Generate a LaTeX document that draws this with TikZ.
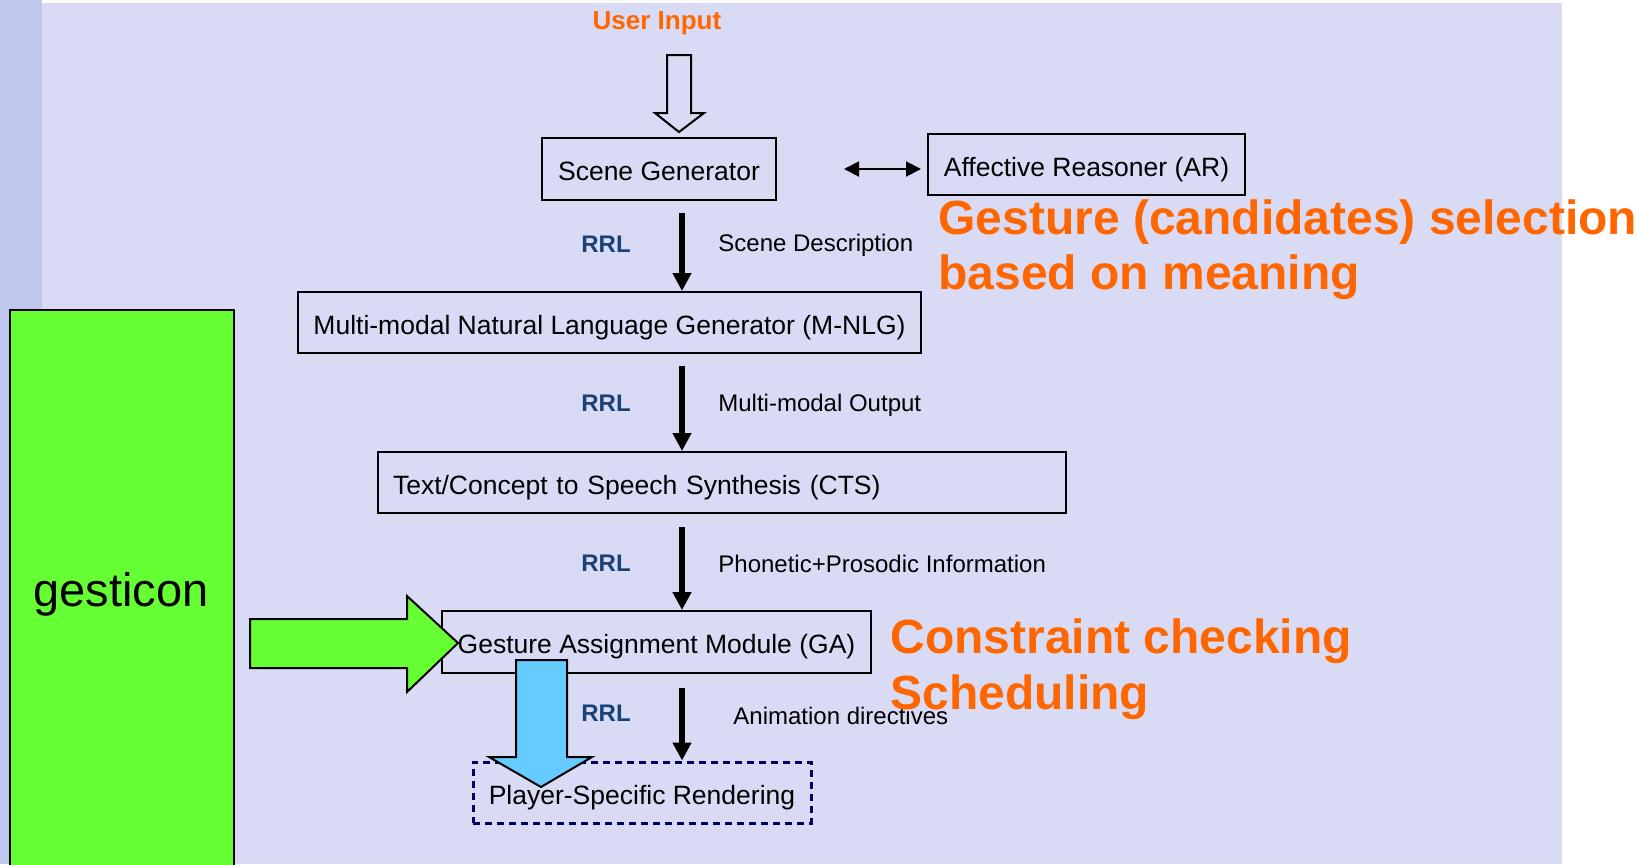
\documentclass[tikz,border=0pt]{standalone}
\usepackage{fontspec}
\setmainfont{Liberation Sans}
\usetikzlibrary{arrows.meta}

\definecolor{stripblue}{RGB}{191,199,236}
\definecolor{panel}{RGB}{217,219,245}
\definecolor{hiorange}{RGB}{255,102,0}
\definecolor{rrlblue}{RGB}{25,65,120}
\definecolor{lexgreen}{RGB}{102,255,51}
\definecolor{skyblue}{RGB}{102,204,255}
\definecolor{navy}{RGB}{0,0,102}

\tikzset{
  stage/.style={draw=black, line width=1pt, inner sep=0pt, text height=11.5pt, text depth=0pt,
                font=\fontsize{13.25}{15}\selectfont},
  flow/.style={line width=3pt, -{Triangle[width=9pt,length=9pt]}},
  both/.style={line width=1pt, {Triangle[width=7.5pt,length=7.5pt]}-{Triangle[width=7.5pt,length=7.5pt]}},
  rrl/.style={font=\fontsize{12}{14}\selectfont\bfseries, text=rrlblue, inner sep=0pt},
  datalabel/.style={font=\fontsize{12}{14}\selectfont, anchor=west, inner sep=0pt},
  remark/.style={font=\fontsize{24}{27}\selectfont\bfseries, text=hiorange, anchor=base west, inner sep=0pt},
  blockarrow/.style={draw=black, line width=1pt, line join=miter}
}

\begin{document}
\begin{tikzpicture}[x=0.5pt, y=-0.5pt]
  \useasboundingbox (0,0) rectangle (1639,864);

  % slide background
  \fill[stripblue] (0,0) rectangle (42,864);
  \fill[panel] (42,3) rectangle (1562,864);

  % gesture lexicon column
  \draw[line width=1pt, fill=lexgreen] (10,310) -- (10,880) -- (234,880) -- (234,310) -- cycle;
  \node[font=\fontsize{23.5}{26}\selectfont, anchor=base, inner sep=0pt] (lex) at (121,606) {gesticon};

  % user input
  \node[font=\fontsize{13}{15}\selectfont\bfseries, text=hiorange, inner sep=0pt] (ui) at (657,23) {User Input};
  \draw[blockarrow] (667,55) -- (691,55) -- (691,113) -- (704,113) -- (679,132)
                    -- (655,113) -- (667,113) -- cycle;

  % pipeline stages
  \node[stage, minimum width=117pt, minimum height=31pt] (sg) at (659,169) {Scene Generator};
  \node[stage, minimum width=158.5pt, minimum height=30.5pt] (ar) at (1086.5,164.5) {Affective Reasoner (AR)};
  \node[stage, minimum width=311.5pt, minimum height=30.5pt] (mnlg) at (609.5,322.5)
       {Multi-modal Natural Language Generator (M-NLG)};
  \node[stage, minimum height=30.5pt, inner xsep=7.5pt, text width=329pt, align=left] (cts) at (722,482.5)
       {Text/Concept to Speech Synthesis (CTS)};
  \node[stage, minimum width=214.5pt, minimum height=31pt] (ga) at (656.5,642)
       {Gesture Assignment Module (GA)};
  \node[stage, draw=navy, line width=1.5pt, dash pattern=on 3.5pt off 2.5pt,
        minimum width=169pt, minimum height=30.5pt] (psr) at (642,792.5)
       {Player-Specific Rendering};

  % data flow
  \coordinate (ax) at (682,0);
  \draw[flow] ([yshift=-6pt]sg.south -| ax) -- (mnlg.north -| ax);
  \draw[flow] ([yshift=-6pt]mnlg.south -| ax) -- (cts.north -| ax);
  \draw[flow] ([yshift=-6.5pt]cts.south -| ax) -- (ga.north -| ax);
  \draw[flow] ([yshift=-7pt]ga.south -| ax) -- (psr.north -| ax);
  \draw[both] ([xshift=33.5pt]sg.east) -- ([xshift=-3pt]ar.west |- sg.east);

  % channel labels
  \node[rrl] (r1) at (606,244) {RRL};
  \node[rrl] (r2) at (606,403) {RRL};
  \node[rrl] (r3) at (606,563) {RRL};
  \node[rrl] (r4) at (606,713) {RRL};
  \node[datalabel] (d1) at (718,245) {Scene Description};
  \node[datalabel] (d2) at (718,405) {Multi-modal Output};
  \node[datalabel] (d3) at (718,564) {Phonetic+Prosodic Information};
  \node[datalabel] (d4) at (733,716) {Animation directives};

  % gesticon feeding the assignment module
  \draw[blockarrow, fill=lexgreen] (250,619) -- (407,619) -- (407,596) -- (458,643)
                                   -- (407,692) -- (407,668) -- (250,668) -- cycle;
  % assigned gestures passed on to rendering
  \draw[blockarrow, fill=skyblue] (516,660) -- (567,660) -- (567,757) -- (592,757)
                                  -- (541,787) -- (489,757) -- (516,757) -- cycle;

  % annotations
  \node[remark] (n1) at (938,234) {Gesture (candidates) selection};
  \node[remark] (n2) at (938,289) {based on meaning};
  \node[remark] (n3) at (890,653) {Constraint checking};
  \node[remark] (n4) at (890,709) {Scheduling};
\end{tikzpicture}
\end{document}
